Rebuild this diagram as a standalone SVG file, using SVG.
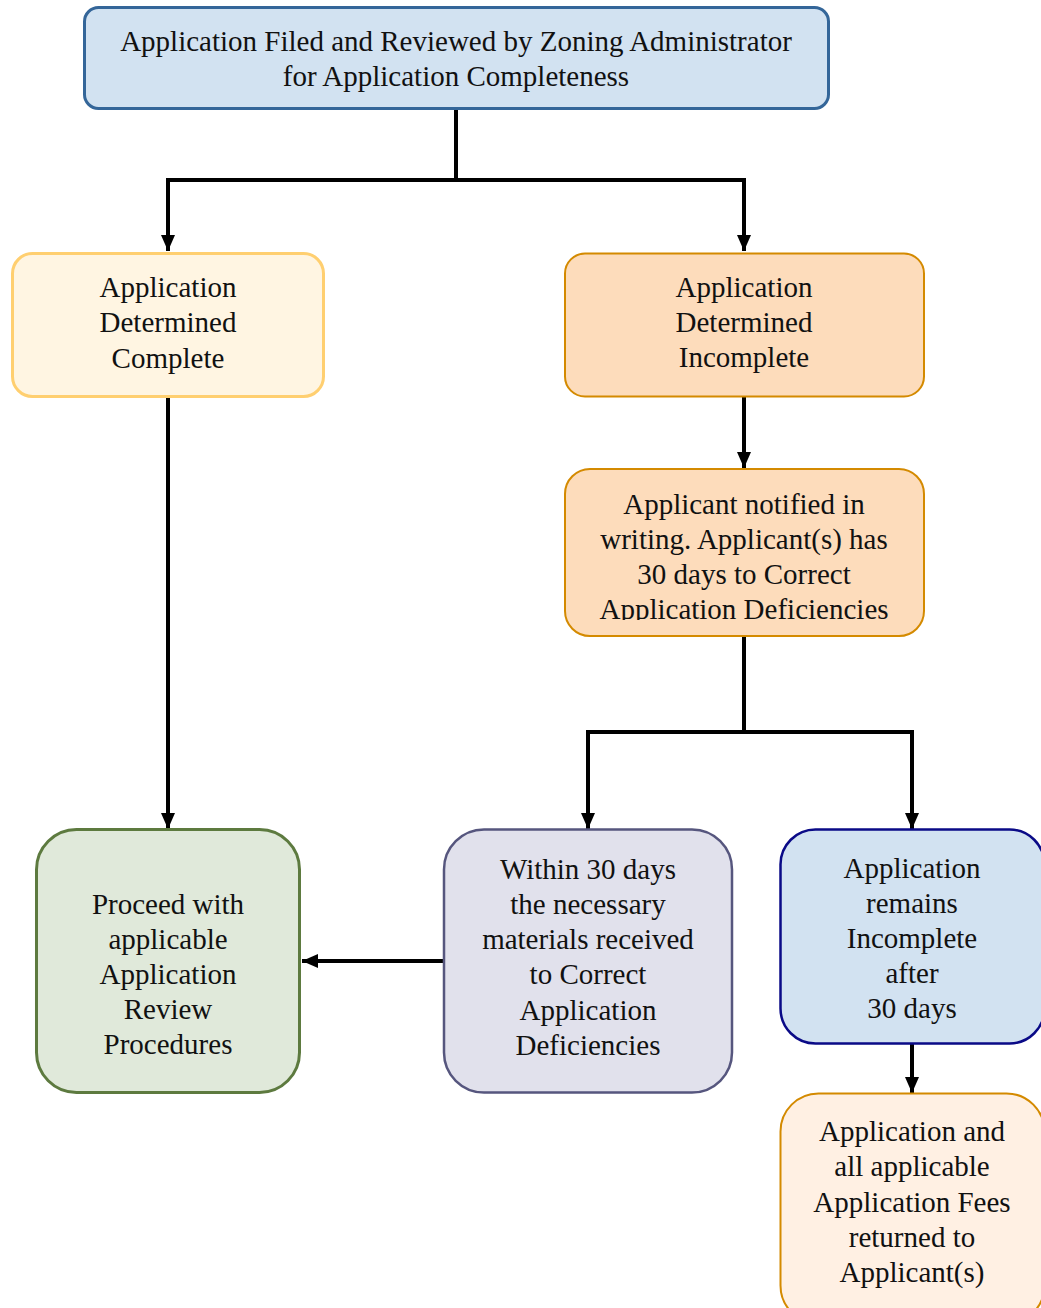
<svg xmlns="http://www.w3.org/2000/svg" width="1041" height="1308" viewBox="0 0 1041 1308">
<style>
text{font-family:"Liberation Serif","Times New Roman",serif;font-size:29px;fill:#111;text-anchor:middle}
.c{fill:none;stroke:#000;stroke-width:4}
</style>
<defs>
<marker id="ah" markerUnits="userSpaceOnUse" markerWidth="17" markerHeight="15" refX="16" refY="7" orient="auto">
<path d="M0,0 L16,7 L0,14 z" fill="#000"/>
</marker>
<clipPath id="clipN"><rect x="565" y="469" width="359" height="151"/></clipPath>
</defs>
<rect width="1041" height="1308" fill="#fff"/>
<g id="connectors">
<path class="c" d="M456,108 V180 H168 V251" marker-end="url(#ah)"/>
<path class="c" d="M456,180 H744 V251" marker-end="url(#ah)"/>
<path class="c" d="M744,397 V468" marker-end="url(#ah)"/>
<path class="c" d="M744,636 V732 H588 V829" marker-end="url(#ah)"/>
<path class="c" d="M744,732 H912 V829" marker-end="url(#ah)"/>
<path class="c" d="M168,397 V829" marker-end="url(#ah)"/>
<path class="c" d="M444,961 H302" marker-end="url(#ah)"/>
<path class="c" d="M912,1044 V1093" marker-end="url(#ah)"/>
</g>
<g id="n-filed">
<rect x="84.5" y="7.5" width="744" height="101" rx="14" fill="#d2e2f1" stroke="#346699" stroke-width="3"/>
<text x="456" y="51">Application Filed and Reviewed by Zoning Administrator</text>
<text x="456" y="86">for Application Completeness</text>
</g>
<g id="n-complete">
<rect x="12.5" y="253.5" width="311" height="143" rx="20" fill="#fff5e2" stroke="#ffcf70" stroke-width="3"/>
<text x="168" y="297">Application</text>
<text x="168" y="332">Determined</text>
<text x="168" y="368">Complete</text>
</g>
<g id="n-incomplete">
<rect x="565" y="253.5" width="359" height="143" rx="20" fill="#fddcbb" stroke="#d48a00" stroke-width="2"/>
<text x="744" y="297">Application</text>
<text x="744" y="332">Determined</text>
<text x="744" y="367">Incomplete</text>
</g>
<g id="n-notified">
<rect x="565" y="469" width="359" height="167" rx="25" fill="#fddcbb" stroke="#d48a00" stroke-width="2"/>
<g clip-path="url(#clipN)">
<text x="744" y="514">Applicant notified in</text>
<text x="744" y="549">writing. Applicant(s) has</text>
<text x="744" y="584">30 days to Correct</text>
<text x="744" y="619">Application Deficiencies</text>
</g>
</g>
<g id="n-proceed">
<rect x="36.5" y="829.5" width="263" height="263" rx="40" fill="#e0e9da" stroke="#5d7a3f" stroke-width="3"/>
<text x="168" y="914">Proceed with</text>
<text x="168" y="949">applicable</text>
<text x="168" y="984">Application</text>
<text x="168" y="1019">Review</text>
<text x="168" y="1054">Procedures</text>
</g>
<g id="n-within">
<rect x="444" y="829.5" width="288" height="263" rx="40" fill="#e1e1ec" stroke="#56567e" stroke-width="2.5"/>
<text x="588" y="879">Within 30 days</text>
<text x="588" y="914">the necessary</text>
<text x="588" y="949">materials received</text>
<text x="588" y="984">to Correct</text>
<text x="588" y="1020">Application</text>
<text x="588" y="1055">Deficiencies</text>
</g>
<g id="n-remains">
<rect x="780.5" y="829.5" width="264" height="214" rx="35" fill="#d2e2f1" stroke="#0a0a87" stroke-width="2.5"/>
<text x="912" y="878">Application</text>
<text x="912" y="913">remains</text>
<text x="912" y="948">Incomplete</text>
<text x="912" y="983">after</text>
<text x="912" y="1018">30 days</text>
</g>
<g id="n-returned">
<rect x="780.5" y="1093.5" width="264" height="230" rx="38" fill="#fff0e3" stroke="#d48a00" stroke-width="2"/>
<text x="912" y="1141">Application and</text>
<text x="912" y="1176">all applicable</text>
<text x="912" y="1212">Application Fees</text>
<text x="912" y="1247">returned to</text>
<text x="912" y="1282">Applicant(s)</text>
</g>
</svg>
